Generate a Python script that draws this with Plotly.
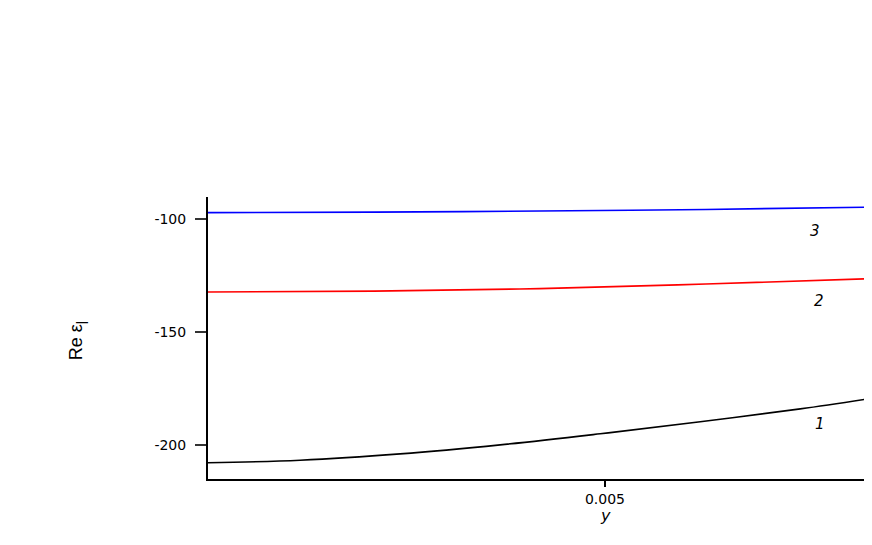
import plotly.graph_objects as go

# data
x_black = [0.0, 0.00116, 0.00242, 0.00368, 0.00494, 0.0062, 0.00746, 0.00836]
y_black = [-207.8, -206.7, -203.9, -199.9, -195.0, -189.7, -184.0, -179.3]

x_red = [0.0, 0.00209, 0.00418, 0.00627, 0.00836]
y_red = [-132.3, -131.9, -130.8, -128.8, -126.4]

x_blue = [0.0, 0.00209, 0.00418, 0.00627, 0.00836]
y_blue = [-97.2, -97.0, -96.5, -95.8, -94.8]

curve_labels = ["1", "2", "3"]
label_x = [0.00771, 0.0077, 0.00765]
label_y = [-190.7, -136.3, -105.3]

y_tickvals = [-100, -150, -200]
y_ticktext = ["-100", "-150", "-200"]
x_tickvals = [0.005]
x_ticktext = ["0.005"]

fig = go.Figure()
fig.add_trace(go.Scatter(x=x_black, y=y_black, mode="lines", line=dict(color="black", width=1.6, shape="spline")))
fig.add_trace(go.Scatter(x=x_red, y=y_red, mode="lines", line=dict(color="red", width=1.6, shape="spline")))
fig.add_trace(go.Scatter(x=x_blue, y=y_blue, mode="lines", line=dict(color="blue", width=1.6, shape="spline")))

for t, lx, ly in zip(curve_labels, label_x, label_y):
    fig.add_annotation(x=lx, y=ly, text="<i>" + t + "</i>", showarrow=False,
                       font=dict(family="DejaVu Sans, Liberation Sans", size=15, color="black"))

fig.add_annotation(xref="paper", yref="paper", x=0.598, y=-0.131, yanchor="middle",
                   text="<i>y</i>", showarrow=False,
                   font=dict(family="DejaVu Sans, Liberation Sans", size=16, color="black"))
fig.add_annotation(xref="paper", yref="paper", x=-0.217, y=0.49, textangle=-90,
                   text="Re ε<sub>|</sub>", showarrow=False,
                   font=dict(family="Liberation Sans Narrow, Liberation Sans, Arial", size=18, color="black"))

fig.update_layout(
    width=864, height=529,
    margin=dict(l=200, r=0, t=189, b=58),
    paper_bgcolor="white", plot_bgcolor="white",
    showlegend=False,
    font=dict(family="DejaVu Sans, Liberation Sans", size=14, color="black"),
)
fig.update_xaxes(range=[0, 0.008363], showgrid=False, zeroline=False,
                 showline=True, linecolor="black", linewidth=1.5,
                 ticks="outside", ticklen=6, tickwidth=1.5, tickcolor="black",
                 tickvals=x_tickvals, ticktext=x_ticktext)
fig.update_yaxes(range=[-215, -90.3], showgrid=False, zeroline=False,
                 showline=True, linecolor="black", linewidth=2,
                 ticks="outside", ticklen=11, tickwidth=1.5, tickcolor="#333",
                 ticklabelstandoff=6,
                 tickvals=y_tickvals, ticktext=y_ticktext)

fig.write_html("out.html")
